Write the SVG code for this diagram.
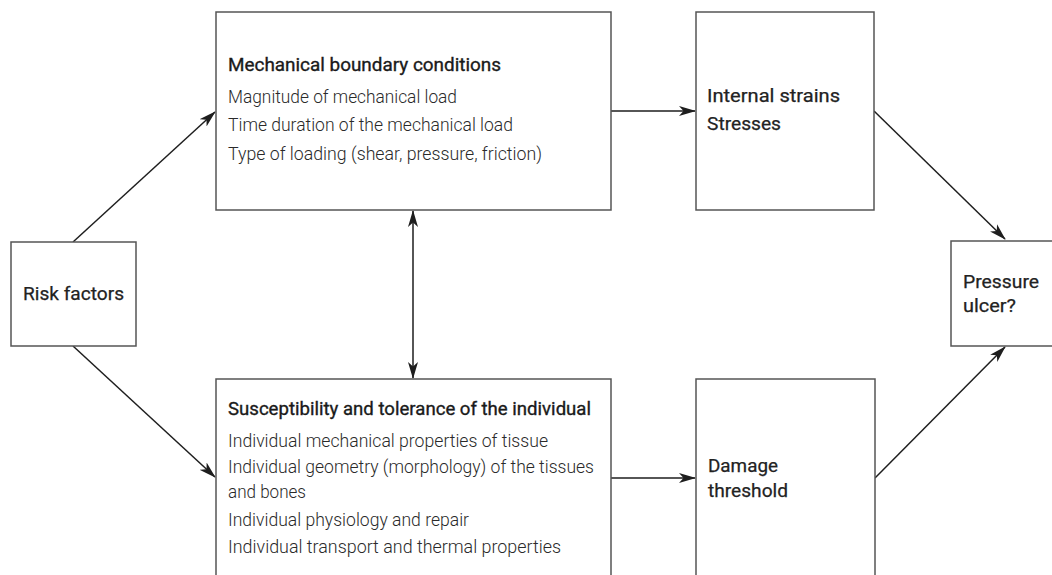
<svg xmlns="http://www.w3.org/2000/svg" width="1052" height="575" viewBox="0 0 1052 575">
  <style>
    .box { fill: #ffffff; stroke: #555555; stroke-width: 1.5; }
    .head { font-family: Roboto, "Liberation Sans", sans-serif; font-size: 18.5px; font-weight: 400; fill: #1a1a1a; stroke: #1a1a1a; stroke-width: 0.35; }
    .label { font-family: Roboto, "Liberation Sans", sans-serif; font-size: 18.5px; font-weight: 400; fill: #222222; stroke: #222222; stroke-width: 0.25; }
    .body { font-family: Roboto, "Liberation Sans", sans-serif; font-size: 17.5px; font-weight: 300; fill: #2a2a2a; }
    .edge { fill: none; stroke: #1e1e1e; stroke-width: 1.5; }
  </style>
  <defs>
    <marker id="arrow" viewBox="0 0 17 11" refX="16" refY="5.5" markerWidth="17" markerHeight="11" markerUnits="userSpaceOnUse" orient="auto-start-reverse">
      <path d="M0,0.5 L17,5.5 L0,10.5 L4.5,5.5 Z" fill="#1e1e1e"/>
    </marker>
  </defs>

  <rect width="1052" height="575" fill="#ffffff"/>

  <!-- connectors -->
  <g id="connectors">
    <line class="edge" x1="73" y1="242" x2="215" y2="112" marker-end="url(#arrow)"/>
    <line class="edge" x1="73" y1="346" x2="215" y2="477" marker-end="url(#arrow)"/>
    <line class="edge" x1="611" y1="111" x2="695" y2="111" marker-end="url(#arrow)"/>
    <line class="edge" x1="874" y1="111" x2="1005" y2="239" marker-end="url(#arrow)"/>
    <line class="edge" x1="611" y1="478" x2="695" y2="478" marker-end="url(#arrow)"/>
    <line class="edge" x1="875" y1="478" x2="1005" y2="347" marker-end="url(#arrow)"/>
    <line class="edge" x1="413" y1="211" x2="413" y2="378" marker-start="url(#arrow)" marker-end="url(#arrow)"/>
  </g>

  <!-- risk factors -->
  <g id="risk-factors">
    <rect class="box" x="11" y="242" width="125" height="104"/>
    <text class="label" x="23" y="300" textLength="101" lengthAdjust="spacingAndGlyphs">Risk factors</text>
  </g>

  <!-- mechanical boundary conditions -->
  <g id="mechanical">
    <rect class="box" x="216" y="12" width="395" height="198"/>
    <text class="head" x="228" y="71" textLength="273" lengthAdjust="spacingAndGlyphs">Mechanical boundary conditions</text>
    <text class="body" x="228" y="103" textLength="229" lengthAdjust="spacingAndGlyphs">Magnitude of mechanical load</text>
    <text class="body" x="228" y="131" textLength="285" lengthAdjust="spacingAndGlyphs">Time duration of the mechanical load</text>
    <text class="body" x="228" y="160" textLength="314" lengthAdjust="spacingAndGlyphs">Type of loading (shear, pressure, friction)</text>
  </g>

  <!-- internal strains -->
  <g id="internal-strains">
    <rect class="box" x="696" y="12" width="178" height="198"/>
    <text class="label" x="707" y="102" textLength="133" lengthAdjust="spacingAndGlyphs">Internal strains</text>
    <text class="label" x="707" y="130" textLength="74" lengthAdjust="spacingAndGlyphs">Stresses</text>
  </g>

  <!-- pressure ulcer -->
  <g id="pressure-ulcer">
    <rect class="box" x="951" y="241" width="120" height="105"/>
    <text class="label" x="963" y="288" textLength="76" lengthAdjust="spacingAndGlyphs">Pressure</text>
    <text class="label" x="963" y="312" textLength="53" lengthAdjust="spacingAndGlyphs">ulcer?</text>
  </g>

  <!-- susceptibility and tolerance -->
  <g id="susceptibility">
    <rect class="box" x="216" y="379" width="395" height="230"/>
    <text class="head" x="228" y="415" textLength="363" lengthAdjust="spacingAndGlyphs">Susceptibility and tolerance of the individual</text>
    <text class="body" x="228" y="447" textLength="320" lengthAdjust="spacingAndGlyphs">Individual mechanical properties of tissue</text>
    <text class="body" x="228" y="473" textLength="366" lengthAdjust="spacingAndGlyphs">Individual geometry (morphology) of the tissues</text>
    <text class="body" x="228" y="498" textLength="78" lengthAdjust="spacingAndGlyphs">and bones</text>
    <text class="body" x="228" y="526" textLength="241" lengthAdjust="spacingAndGlyphs">Individual physiology and repair</text>
    <text class="body" x="228" y="553" textLength="333" lengthAdjust="spacingAndGlyphs">Individual transport and thermal properties</text>
  </g>

  <!-- damage threshold -->
  <g id="damage-threshold">
    <rect class="box" x="696" y="379" width="179" height="230"/>
    <text class="label" x="708" y="472" textLength="70" lengthAdjust="spacingAndGlyphs">Damage</text>
    <text class="label" x="708" y="497" textLength="80" lengthAdjust="spacingAndGlyphs">threshold</text>
  </g>
</svg>
